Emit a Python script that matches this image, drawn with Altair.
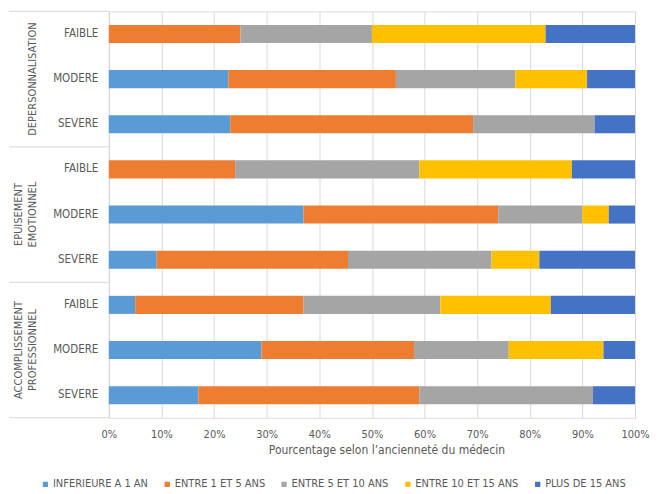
import altair as alt
import pandas as pd

groups = ["DEPERSONNALISATION", "EPUISEMENT\nEMOTIONNEL", "ACCOMPLISSEMENT\nPROFESSIONNEL"]
levels = ["FAIBLE", "MODERE", "SEVERE"]
series = ["INFERIEURE A 1 AN", "ENTRE 1 ET 5 ANS", "ENTRE 5 ET 10 ANS",
          "ENTRE 10 ET 15 ANS", "PLUS DE 15 ANS"]
colors = ["#5B9BD5", "#ED7D31", "#A5A5A5", "#FFC000", "#4472C4"]

# percentages per row (group, level), in series order
values = {
    ("DEPERSONNALISATION", "FAIBLE"): [0, 25, 25, 33, 17],
    ("DEPERSONNALISATION", "MODERE"): [22.7, 31.8, 22.7, 13.6, 9.1],
    ("DEPERSONNALISATION", "SEVERE"): [23.1, 46.2, 23.1, 0, 7.7],
    ("EPUISEMENT\nEMOTIONNEL", "FAIBLE"): [0, 24, 35, 29, 12],
    ("EPUISEMENT\nEMOTIONNEL", "MODERE"): [37, 37, 16, 5, 5],
    ("EPUISEMENT\nEMOTIONNEL", "SEVERE"): [9.1, 36.4, 27.3, 9.1, 18.2],
    ("ACCOMPLISSEMENT\nPROFESSIONNEL", "FAIBLE"): [5, 32, 26, 21, 16],
    ("ACCOMPLISSEMENT\nPROFESSIONNEL", "MODERE"): [29, 29, 18, 18, 6],
    ("ACCOMPLISSEMENT\nPROFESSIONNEL", "SEVERE"): [17, 42, 33, 0, 8],
}

FONT = "'DejaVu Sans Condensed', 'Liberation Sans', sans-serif"
FS = 11
TXT = "#595959"

rows = []
row_order = []
for gi, g in enumerate(groups):
    for lv in levels:
        key = f"{gi}|{lv}"
        row_order.append(key)
        for si, s in enumerate(series):
            rows.append({"row": key, "group": g, "level": lv, "serie": s,
                         "order": si, "val": values[(g, lv)][si]})
df = pd.DataFrame(rows)

yscale = alt.Scale(domain=row_order, paddingInner=0, paddingOuter=0)

bars = alt.Chart(df).mark_bar(height={"band": 0.4}).encode(
    x=alt.X("val:Q", stack="normalize",
            scale=alt.Scale(domain=[0, 1]),
            axis=alt.Axis(format=".0%", values=[i / 10 for i in range(11)],
                          title="Pourcentage selon l’ancienneté du médecin",
                          grid=True, gridColor="#D9D9D9", domain=False, ticks=False,
                          labelFlush=False,
                          labelPadding=11, labelFontSize=FS, labelColor=TXT,
                          labelFont=FONT, titleFont=FONT, titleFontSize=12,
                          titleX=278, titleAlign="center",
                          titleFontWeight="normal", titleColor=TXT, titlePadding=5)),
    y=alt.Y("row:N", scale=yscale,
            axis=alt.Axis(title=None, labelExpr="split(datum.value, '|')[1]",
                          ticks=False, tickSize=0, labelPadding=11, domain=True,
                          domainColor="#D9D9D9", labelFont=FONT, labelFontSize=11.5,
                          labelColor=TXT, grid=False)),
    color=alt.Color("serie:N", scale=alt.Scale(domain=series, range=colors),
                    legend=alt.Legend(title=None, orient="none", direction="horizontal",
                                      columns=5, legendX=-69, legendY=468,
                                      symbolType="square", symbolSize=28,
                                      symbolStrokeWidth=0, labelFont=FONT,
                                      labelFontSize=FS, labelColor=TXT,
                                      columnPadding=13, labelOffset=2)),
    order=alt.Order("order:Q"),
)

sep_df = pd.DataFrame({"row": [f"{gi}|FAIBLE" for gi in range(len(groups))]})
seps = alt.Chart(sep_df).mark_rule(color="#D9D9D9", strokeWidth=1).encode(
    y=alt.Y("row:N", scale=yscale, bandPosition=0),
    x=alt.value(-100), x2=alt.value(0),
)
bottom_df = pd.DataFrame({"row": [f"{len(groups)-1}|SEVERE"]})
bottom = alt.Chart(bottom_df).mark_rule(color="#D9D9D9", strokeWidth=1).encode(
    y=alt.Y("row:N", scale=yscale, bandPosition=1),
    x=alt.value(-100), x2=alt.value(0),
)

glab_df = pd.DataFrame({"row": [f"{gi}|MODERE" for gi in range(len(groups))],
                        "label": groups})
text_kw = dict(angle=270, align="center", baseline="middle", font=FONT,
               fontSize=FS, color=TXT, lineHeight=14, lineBreak="\n")
glabels_one = alt.Chart(glab_df).transform_filter(
    "indexof(datum.label, '\\n') < 0").mark_text(**text_kw).encode(
    y=alt.Y("row:N", scale=yscale), x=alt.value(-76), text="label:N")
glabels_two = alt.Chart(glab_df).transform_filter(
    "indexof(datum.label, '\\n') >= 0").mark_text(**text_kw).encode(
    y=alt.Y("row:N", scale=yscale), x=alt.value(-90), text="label:N")

chart = alt.layer(bars, seps, bottom, glabels_one, glabels_two).properties(
    width=527, height=407,
    padding={"left": 0, "top": 2, "right": 0, "bottom": 4},
).configure_view(stroke=None).configure(background="white")

chart.save("out.html", embed_options={"renderer": "svg", "actions": False})
